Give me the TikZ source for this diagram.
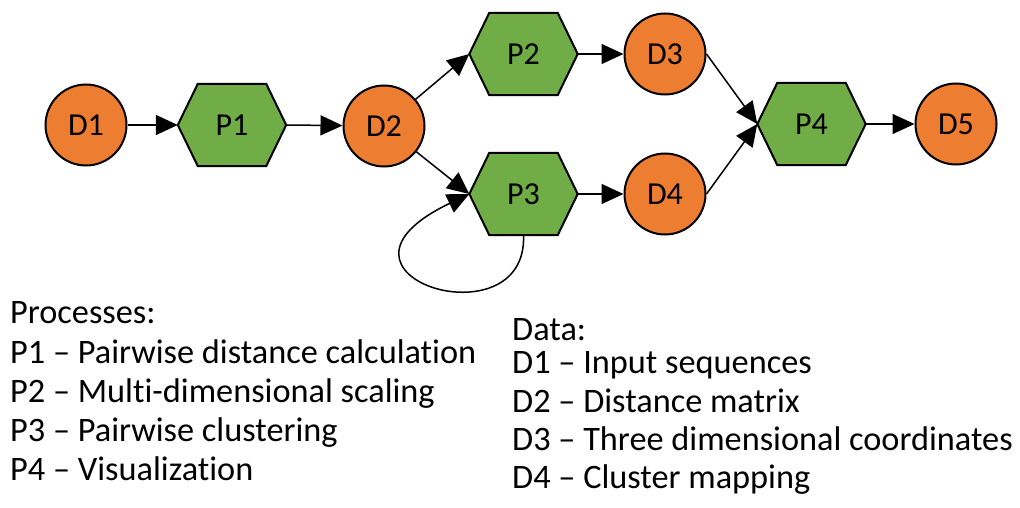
\documentclass[tikz,border=0pt]{standalone}
\usepackage{fontspec}
\setmainfont{Carlito}[Ligatures=NoCommon]
\usetikzlibrary{arrows.meta,backgrounds}
\definecolor{dorange}{HTML}{ED7D31}
\definecolor{pgreen}{HTML}{70AD47}
\newcommand\hexat[1]{\draw[hexbox] (#1.west) -- ([xshift=20pt]#1.north west) -- ([xshift=-20pt]#1.north east) -- (#1.east) -- ([xshift=-20pt]#1.south east) -- ([xshift=20pt]#1.south west) -- cycle;}
\begin{document}
\begin{tikzpicture}[x=1pt,y=-1pt,
  data/.style={circle,draw,line width=2pt,fill=dorange,minimum size=81pt,inner sep=0pt,font=\fontsize{32}{38}\selectfont},
  proc/.style={minimum width=108pt,minimum height=82pt,inner sep=0pt,font=\fontsize{32}{38}\selectfont},
  hexbox/.style={draw,line width=2pt,fill=pgreen,line join=miter},
  flow/.style={line width=1.5pt,-{Triangle[length=22pt,width=20pt]}},
  legend/.style={anchor=base west,inner sep=0pt,font=\fontsize{34.3}{40}\selectfont}]
\useasboundingbox (0,0) rectangle (1020,508);
% nodes
\node[data] (D1) at (86,125) {D1};
\node[proc] (P1) at (232,125) {P1};
\node[data] (D2) at (384,126) {D2};
\node[proc] (P2) at (523.5,54) {P2};
\node[proc] (P3) at (523.5,194) {P3};
\node[data] (D3) at (665,54) {D3};
\node[data] (D4) at (665,194) {D4};
\node[proc] (P4) at (811.5,124) {P4};
\node[data] (D5) at (956,124) {D5};
\begin{scope}[on background layer]
  \hexat{P1}\hexat{P2}\hexat{P3}\hexat{P4}
\end{scope}
% connectors
\draw[flow] (D1) -- (P1.west);
\draw[flow] (P1.east) -- (D2);
\draw[flow] (D2) -- (P2.west);
\draw[flow] (D2) -- (P3.west);
\draw[flow] (P2.east) -- (D3);
\draw[flow] (P3.east) -- (D4);
\draw[flow] (D3.east) -- (P4.west);
\draw[flow] (D4.east) -- (P4.west);
\draw[flow] (P4.east) -- (D5);
\draw[flow] (P3.south) .. controls (528,345) and (300,275) .. (P3.west);
% legend
\node[legend] (lp0) at (10,323) {Processes:};
\node[legend] (lp1) at (10,363) {P1 -- Pairwise distance calculation};
\node[legend] (lp2) at (10,402) {P2 -- Multi-dimensional scaling};
\node[legend] (lp3) at (10,441) {P3 -- Pairwise clustering};
\node[legend] (lp4) at (10,480) {P4 -- Visualization};
\node[legend] (ld0) at (512,340) {Data:};
\node[legend] (ld1) at (512,373) {D1 -- Input sequences};
\node[legend] (ld2) at (512,412) {D2 -- Distance matrix};
\node[legend] (ld3) at (512,450) {D3 -- Three dimensional coordinates};
\node[legend] (ld4) at (512,488) {D4 -- Cluster mapping};
\end{tikzpicture}
\end{document}
